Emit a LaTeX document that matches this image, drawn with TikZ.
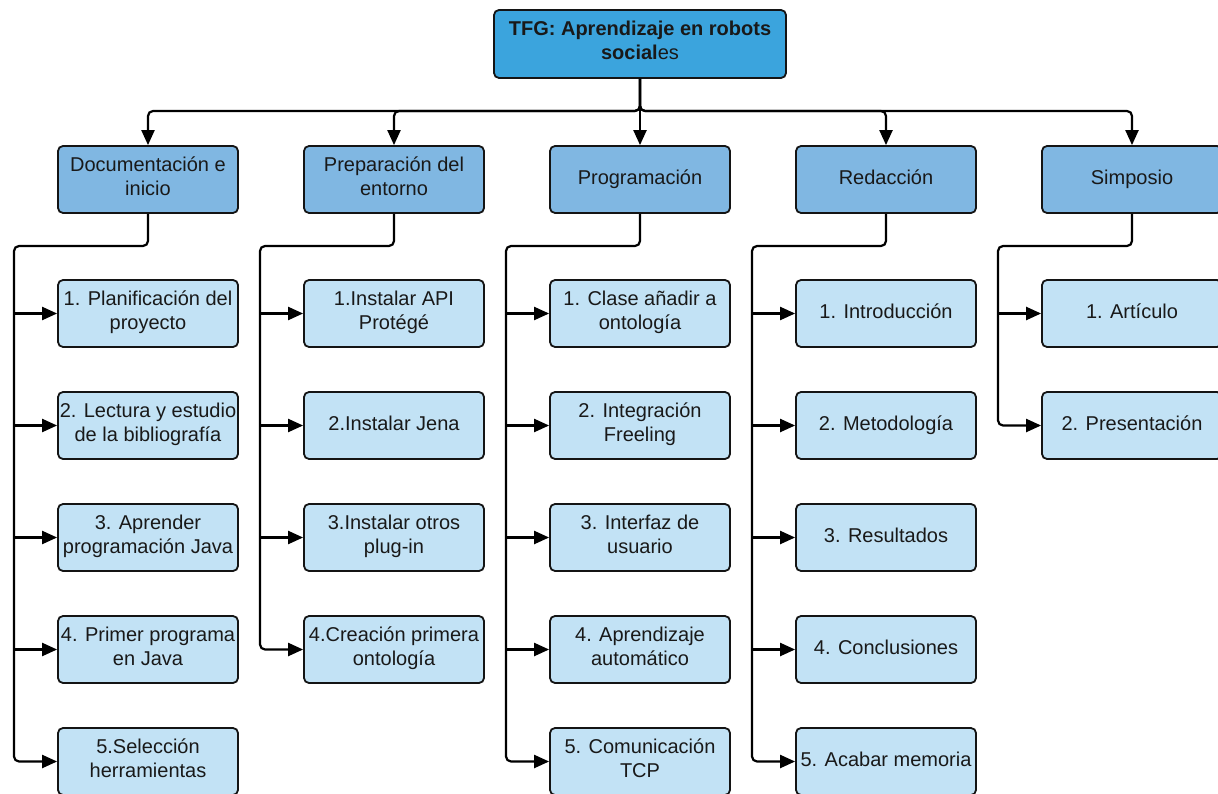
\documentclass[tikz,border=0pt]{standalone}
\usepackage{fontspec}
\setmainfont{Liberation Sans}
\usetikzlibrary{arrows.meta}
\definecolor{rootfill}{RGB}{59,164,221}
\definecolor{catfill}{RGB}{128,183,226}
\definecolor{taskfill}{RGB}{194,226,245}
\definecolor{edge}{RGB}{20,20,20}
\definecolor{txt}{RGB}{25,25,25}
\tikzset{
  box/.style={draw=edge, line width=1.8pt, rounded corners=5pt, minimum width=180pt, minimum height=67pt, inner sep=0pt, align=center, text=txt, font=\fontsize{20}{24}\selectfont, execute at begin node=\strut, execute at end node=\strut},
  rootbox/.style={box, fill=rootfill, minimum width=292pt, minimum height=68pt},
  catbox/.style={box, fill=catfill},
  taskbox/.style={box, fill=taskfill},
  conn/.style={draw=black, line width=2.2pt, rounded corners=5pt},
  arr/.style={conn, -{Triangle[length=15pt,width=13pt]}}
}
\begin{document}
\begin{tikzpicture}[x=1pt,y=-1pt]
\clip (0,0) rectangle (1218,794);
\fill[white] (0,0) rectangle (1218,794);
% root
\node[rootbox] (root) at (640,44) {\textbf{TFG: Aprendizaje en robots}\\\textbf{social}es};
% categories
\node[catbox] (c1) at (148,179.5) {Documentación e\\inicio};
\node[catbox] (c2) at (394,179.5) {Preparación del\\entorno};
\node[catbox] (c3) at (640,179.5) {Programación};
\node[catbox] (c4) at (886,179.5) {Redacción};
\node[catbox] (c5) at (1132,179.5) {Simposio};
% tasks col1
\node[taskbox] (t11) at (148,313.5) {1. Planificación del\\proyecto};
\node[taskbox] (t12) at (148,425.5) {2. Lectura y estudio\\de la bibliografía};
\node[taskbox] (t13) at (148,537.5) {3. Aprender\\programación Java};
\node[taskbox] (t14) at (148,649.5) {4. Primer programa\\en Java};
\node[taskbox] (t15) at (148,761.5) {5.Selección\\herramientas};
% col2
\node[taskbox] (t21) at (394,313.5) {1.Instalar API\\Protégé};
\node[taskbox] (t22) at (394,425.5) {2.Instalar Jena};
\node[taskbox] (t23) at (394,537.5) {3.Instalar otros\\plug-in};
\node[taskbox] (t24) at (394,649.5) {4.Creación primera\\ontología};
% col3
\node[taskbox] (t31) at (640,313.5) {1. Clase añadir a\\ontología};
\node[taskbox] (t32) at (640,425.5) {2. Integración\\Freeling};
\node[taskbox] (t33) at (640,537.5) {3. Interfaz de\\usuario};
\node[taskbox] (t34) at (640,649.5) {4. Aprendizaje\\automático};
\node[taskbox] (t35) at (640,761.5) {5. Comunicación\\TCP};
% col4
\node[taskbox] (t41) at (886,313.5) {1. Introducción};
\node[taskbox] (t42) at (886,425.5) {2. Metodología};
\node[taskbox] (t43) at (886,537.5) {3. Resultados};
\node[taskbox] (t44) at (886,649.5) {4. Conclusiones};
\node[taskbox] (t45) at (886,761.5) {5. Acabar memoria};
% col5
\node[taskbox] (t51) at (1132,313.5) {1. Artículo};
\node[taskbox] (t52) at (1132,425.5) {2. Presentación};
% root to categories
\coordinate (bus) at (640,111);
\foreach \c in {c1,c2,c3,c4,c5}{
  \draw[arr] (root.south) |- (bus) -| (\c.north);
}
% spines
\coordinate (s1) at (14,246);
\coordinate (s2) at (260,246);
\coordinate (s3) at (506,246);
\coordinate (s4) at (752,246);
\coordinate (s5) at (998,246);
\draw[arr] (c1.south) |- (s1) |- (t15.west);
\foreach \t in {t11,t12,t13,t14}{\draw[arr] (s1 |- \t.west) -- (\t.west);}
\draw[arr] (c2.south) |- (s2) |- (t24.west);
\foreach \t in {t21,t22,t23}{\draw[arr] (s2 |- \t.west) -- (\t.west);}
\draw[arr] (c3.south) |- (s3) |- (t35.west);
\foreach \t in {t31,t32,t33,t34}{\draw[arr] (s3 |- \t.west) -- (\t.west);}
\draw[arr] (c4.south) |- (s4) |- (t45.west);
\foreach \t in {t41,t42,t43,t44}{\draw[arr] (s4 |- \t.west) -- (\t.west);}
\draw[arr] (c5.south) |- (s5) |- (t52.west);
\draw[arr] (s5 |- t51.west) -- (t51.west);
\end{tikzpicture}
\end{document}
